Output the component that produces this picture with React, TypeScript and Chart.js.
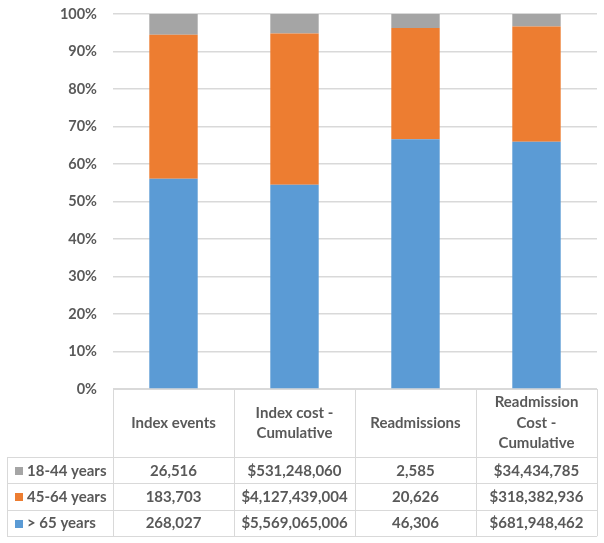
import React, { useEffect, useRef } from "react";
import { Chart, registerables } from "chart.js";

Chart.register(...registerables);

const categories = ["Index events", "Index cost - Cumulative", "Readmissions", "Readmission Cost - Cumulative"];
const headerLines = [["Index events"], ["Index cost -", "Cumulative"], ["Readmissions"], ["Readmission", "Cost -", "Cumulative"]];
const isCurrency = [false, true, false, true];
const seriesLabels = ["18-44 years", "45-64 years", "> 65 years"];
const age18to44 = [26516, 531248060, 2585, 34434785];
const age45to64 = [183703, 4127439004, 20626, 318382936];
const age65plus = [268027, 5569065006, 46306, 681948462];
const yTickValues = [0, 10, 20, 30, 40, 50, 60, 70, 80, 90, 100];

const GRAY = "#a5a5a5";
const ORANGE = "#ed7d31";
const BLUE = "#5b9bd5";
const TEXT = "#595959";
const LINE = "#d9d9d9";
const FONT = "Lato, 'Open Sans', sans-serif";

const totals = categories.map((_, i) => age18to44[i] + age45to64[i] + age65plus[i]);
const pct = (arr: number[]) => arr.map((v, i) => (v / totals[i]) * 100);

const fmt = (v: number, cur: boolean) => (cur ? "$" : "") + v.toLocaleString("en-US");

const tablePlugin = {
  id: "dataTable",
  afterDraw(chart: any) {
    const ctx = chart.ctx as CanvasRenderingContext2D;
    const area = chart.chartArea;
    const n = categories.length;
    const colW = (area.right - area.left) / n;
    const edges = Array.from({ length: n + 1 }, (_, i) => area.left + i * colW);
    const tableLeft = 7;
    const top = area.bottom;
    const headerH = 68;
    const rowH = 26.4;
    const headerBottom = top + headerH;
    const rows = [
      { label: seriesLabels[0], color: GRAY, values: age18to44 },
      { label: seriesLabels[1], color: ORANGE, values: age45to64 },
      { label: seriesLabels[2], color: BLUE, values: age65plus },
    ];
    const bottom = headerBottom + rows.length * rowH;
    const px = (v: number) => Math.round(v) + 0.5;

    ctx.save();
    ctx.strokeStyle = LINE;
    ctx.lineWidth = 1;
    ctx.beginPath();
    ctx.moveTo(edges[0], px(top));
    ctx.lineTo(edges[n], px(top));
    for (let r = 0; r <= rows.length; r++) {
      const y = px(headerBottom + r * rowH);
      ctx.moveTo(tableLeft, y);
      ctx.lineTo(edges[n], y);
    }
    for (let i = 0; i <= n; i++) {
      const x = px(edges[i]);
      ctx.moveTo(x, top);
      ctx.lineTo(x, bottom);
    }
    ctx.moveTo(px(tableLeft), headerBottom);
    ctx.lineTo(px(tableLeft), bottom);
    ctx.stroke();

    ctx.fillStyle = TEXT;
    ctx.font = "bold 15px " + FONT;
    ctx.textAlign = "center";
    ctx.textBaseline = "middle";
    const lineH = 20.5;
    headerLines.forEach((lines, i) => {
      const cx = (edges[i] + edges[i + 1]) / 2;
      const cy = top + headerH / 2;
      lines.forEach((t, k) => {
        ctx.fillText(t, cx, cy + (k - (lines.length - 1) / 2) * lineH);
      });
    });

    rows.forEach((row, r) => {
      const cy = headerBottom + r * rowH + rowH / 2 + 0.5;
      ctx.fillStyle = row.color;
      ctx.fillRect(15, Math.round(cy - 4), 8, 8);
      ctx.fillStyle = TEXT;
      ctx.textAlign = "left";
      ctx.fillText(row.label, 27, cy);
      ctx.textAlign = "center";
      row.values.forEach((v, i) => {
        const cx = (edges[i] + edges[i + 1]) / 2;
        ctx.fillText(fmt(v, isCurrency[i]), cx, cy);
      });
    });
    ctx.restore();
  },
};

export default function App() {
  const ref = useRef<HTMLCanvasElement>(null);
  useEffect(() => {
    if (!ref.current) return;
    const chart = new Chart(ref.current, {
      type: "bar",
      data: {
        labels: categories,
        datasets: [
          { label: seriesLabels[2], data: pct(age65plus), backgroundColor: BLUE, categoryPercentage: 0.8, barPercentage: 0.5 },
          { label: seriesLabels[1], data: pct(age45to64), backgroundColor: ORANGE, categoryPercentage: 0.8, barPercentage: 0.5 },
          { label: seriesLabels[0], data: pct(age18to44), backgroundColor: GRAY, categoryPercentage: 0.8, barPercentage: 0.5 },
        ],
      },
      options: {
        responsive: false,
        devicePixelRatio: 1,
        animation: false,
        layout: { padding: { top: 14, bottom: 154, left: 0, right: 7 } },
        plugins: { legend: { display: false }, tooltip: { enabled: false } },
        scales: {
          x: {
            stacked: true,
            grid: { display: false },
            border: { display: false },
            ticks: { display: false },
            afterFit: (scale: any) => {
              scale.height = 0;
            },
          },
          y: {
            stacked: true,
            min: 0,
            max: 100,
            afterBuildTicks: (scale: any) => {
              scale.ticks = yTickValues.map((v) => ({ value: v }));
            },
            afterFit: (scale: any) => {
              scale.width = 113;
              scale.paddingTop = 0;
              scale.paddingBottom = 0;
            },
            grid: { color: LINE, drawTicks: false, lineWidth: 1.5 },
            border: { display: false },
            ticks: {
              padding: 16,
              color: TEXT,
              font: { family: FONT, size: 14.5, weight: "bold" },
              callback: (v: any) => v + "%",
            },
          },
        },
      },
      plugins: [tablePlugin],
    });
    return () => chart.destroy();
  }, []);
  return (
    <div style={{ position: "absolute", left: 0, top: 0, width: 604, height: 543, background: "#fff" }}>
      <canvas ref={ref} width={604} height={543} />
    </div>
  );
}
